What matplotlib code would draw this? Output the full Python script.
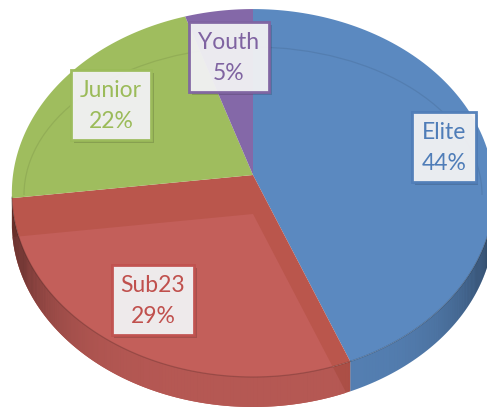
import numpy as np
import matplotlib.pyplot as plt
import matplotlib.patheffects as pe
from matplotlib.patches import Polygon, Arc

plt.rcParams['font.family'] = ['Lato', 'DejaVu Sans']

# data
labels = ['Elite', 'Sub23', 'Junior', 'Youth']
shares = [44, 29, 22, 5]

# styles
top_colors = ['#5B89C0', '#BA564C', '#9FBD5E', '#8468A8']
text_colors = ['#4F7DB8', '#C0504D', '#9BBB59', '#7F63A1']
light_red = '#C35F5A'
label_pos = [(444, 148), (153, 301), (111, 106), (229, 58)]

# perspective of the pie in pixel coordinates
CX, CY, SX, SY, K = 253, 176, 240, 182.2, 0.098
DEPTH = 30
SHIFT = 39
WALL_FROM = -np.pi + 0.12


def proj(theta, r=1.0):
    x = r * np.cos(theta)
    y = r * np.sin(theta)
    w = 1 + K * y
    return np.column_stack([CX + SX * x / w, CY - SY * y / w])


fig = plt.figure(figsize=(4.87, 4.10), dpi=100)
ax = fig.add_axes([0, 0, 1, 1])
ax.set_xlim(0, 487)
ax.set_ylim(410, 0)
ax.axis('off')

# wedge angles, start at top and go clockwise
fr = np.array(shares) / sum(shares)
edges = np.pi / 2 - 2 * np.pi * np.concatenate([[0], np.cumsum(fr)])
apex = np.array([[CX, CY]])

# side wall (front half only)
for i in range(len(shares)):
    a0, a1 = edges[i], edges[i + 1]
    s, e = max(a1, WALL_FROM), min(a0, 0)
    if e <= s:
        continue
    t = np.linspace(s, e, 80)
    top = proj(t)
    bot = top + [0, DEPTH]
    ax.add_patch(Polygon(np.vstack([top, bot[::-1]]), closed=True,
                         fc=top_colors[i], ec='none', zorder=1))

# top faces
for i in range(len(shares)):
    t = np.linspace(edges[i], edges[i + 1], 120)
    pts = np.vstack([apex, proj(t)])
    ax.add_patch(Polygon(pts, closed=True, fc=top_colors[i], ec='none', zorder=2))

# lighter Sub23 face, shifted down and clipped to the slice (face + wall)
t = np.linspace(edges[1], edges[2], 120)
arc = proj(t)
clip_pts = np.vstack([apex, arc[:1], arc + [0, DEPTH], arc[-1:]])
clip_poly = Polygon(clip_pts, closed=True, transform=ax.transData)
light = Polygon(np.vstack([apex, arc]) + [0, SHIFT], closed=True,
                fc=light_red, ec='none', zorder=3)
ax.add_patch(light)
light.set_clip_path(clip_poly)

# wall shading (darker towards the silhouette)
t_all = np.linspace(WALL_FROM, 0, 240)
for j in range(len(t_all) - 1):
    tt = np.array([t_all[j], t_all[j + 1]])
    top = proj(tt)
    bot = top + [0, DEPTH]
    c = abs(np.cos(tt.mean()))
    a = 0.07 + 0.5 * c ** 5
    ax.add_patch(Polygon(np.vstack([top, bot[::-1]]), closed=True,
                         fc='black', ec='none', alpha=a, zorder=4, lw=0))

# top rim lines
for i in range(len(shares)):
    t = np.linspace(max(edges[i + 1], WALL_FROM), min(edges[i], 0), 100)
    if t[0] < t[-1]:
        p = proj(t)
        ax.plot(p[:, 0], p[:, 1], color='black', alpha=0.18, lw=0.9, zorder=5)

# faint bevel line on the back part
ax.add_patch(Arc((253, 196), 458, 296, theta1=180, theta2=360,
                 color='black', alpha=0.08, lw=0.9, zorder=5))

# labels
for i, lab in enumerate(labels):
    x, y = label_pos[i]
    txt = ax.text(x, y, f'{lab}\n{shares[i]}%', ha='center', va='center',
                  fontsize=16.5, color=text_colors[i], linespacing=1.6, zorder=7,
                  bbox=dict(boxstyle='square,pad=0.4', fc='#F3F3F5',
                            ec=text_colors[i], lw=2, alpha=0.95))
    txt.get_bbox_patch().set_path_effects([
        pe.SimplePatchShadow(offset=(2, -2), shadow_rgbFace='black', alpha=0.15),
        pe.Normal()])

fig.savefig('out.png', dpi=100)
